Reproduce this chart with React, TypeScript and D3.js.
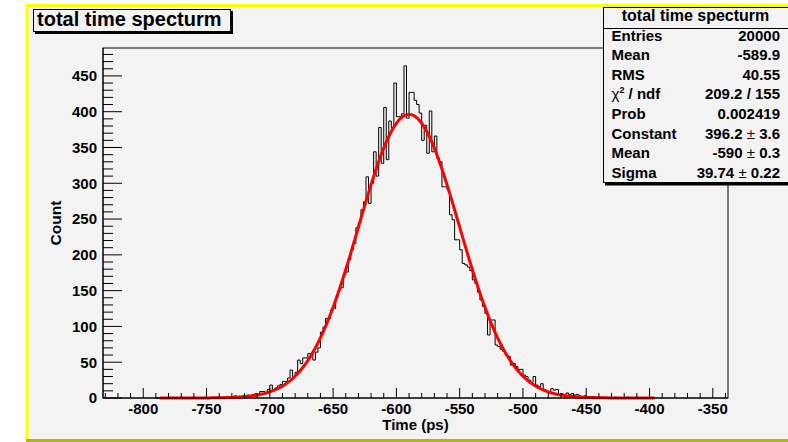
import React, { useEffect } from 'react';
import * as d3 from 'd3';

const W = 788;
const H = 442;

// histogram: 2 ps bins starting at -790 ps
const binStart = -790;
const binWidth = 2;
const counts = [
  0, 0, 0, 0, 0, 0, 0, 0, 0, 0, 0, 0, 0, 0, 1, 0, 0, 0, 0, 1,
  0, 0, 1, 0, 1, 0, 1, 1, 1, 0, 2, 3, 2, 1, 3, 2, 4, 3, 5, 6,
  4, 9, 9, 6, 12, 18, 10, 14, 17, 19, 23, 23, 28, 39, 30, 36, 53, 48, 56, 56,
  62, 62, 53, 64, 70, 92, 99, 111, 111, 123, 125, 141, 150, 154, 172, 176, 193, 207, 216, 238,
  245, 263, 274, 309, 272, 300, 344, 310, 378, 328, 406, 333, 387, 377, 440, 393, 393, 397, 464, 391,
  427, 427, 416, 410, 398, 360, 381, 342, 401, 344, 366, 335, 330, 295, 295, 291, 256, 249, 221, 221,
  207, 188, 186, 183, 178, 165, 160, 148, 137, 128, 118, 88, 109, 109, 74, 72, 68, 65, 60, 58,
  46, 48, 44, 40, 40, 32, 30, 25, 22, 30, 18, 16, 20, 12, 9, 8, 13, 11, 12, 5,
  6, 4, 7, 5, 6, 4, 5, 3, 2, 3, 2, 1, 2, 1, 0, 1, 1, 0, 1, 0,
  0, 1, 0, 0, 0, 0, 1, 0, 0, 0, 0, 0, 0, 0, 0,
];

// gaussian fit parameters (from the stats box)
const fitConstant = 396.2;
const fitMean = -590;
const fitSigma = 39.74;
const fitRange = [-787, -396];

const xDomain = [-831.8, -338.0];
const yDomain = [0, 489];
const xTicks = [-800, -750, -700, -650, -600, -550, -500, -450, -400, -350];
const yTicks = [0, 50, 100, 150, 200, 250, 300, 350, 400, 450];

const chartTitle = 'total time specturm';
const xTitle = 'Time (ps)';
const yTitle = 'Count';
const statLabels = ['Entries', 'Mean', 'RMS', 'CHI2', 'Prob', 'Constant', 'Mean', 'Sigma'];
const statValues = ['20000', '-589.9', '40.55', '209.2 / 155', '0.002419', '396.2 ± 3.6', '-590 ± 0.3', '39.74 ± 0.22'];

const FONT = '"Liberation Sans", Arial, Helvetica, sans-serif';
const BG = '#f3f3f3';

export default function App() {
  useEffect(() => {
    document.body.style.margin = '0';
  }, []);

  const fL = 103, fR = 728, fT = 48, fB = 398;
  const x = d3.scaleLinear().domain(xDomain).range([fL, fR]);
  const y = d3.scaleLinear().domain(yDomain).range([fB, fT]);

  const lastEdge = binStart + counts.length * binWidth;
  const pts: [number, number][] = [[binStart, 0]];
  counts.forEach((c, i) => pts.push([binStart + i * binWidth, c]));
  pts.push([lastEdge, 0]);
  const histPath = d3
    .line<[number, number]>()
    .x((d) => x(d[0]))
    .y((d) => y(d[1]))
    .curve(d3.curveStepAfter)(pts) as string;

  const fitXs = d3.range(0, 401).map((i) => fitRange[0] + ((fitRange[1] - fitRange[0]) * i) / 400);
  const fitPath = d3
    .line<number>()
    .x((v) => x(v))
    .y((v) => y(fitConstant * Math.exp(-((v - fitMean) ** 2) / (2 * fitSigma * fitSigma))))(fitXs) as string;

  const xMinor = d3.range(-830, xDomain[1], 10).filter((v) => v % 50 !== 0);
  const yMinor = d3.range(0, yDomain[1], 10).filter((v) => v % 50 !== 0);

  const sbL = 603, sbR = 788, sbT = 7, sbB = 182;
  const rowY0 = 40.5, rowStep = 19.6;

  const renderValue = (s: string) => {
    const parts = s.split('±');
    if (parts.length === 1) return s;
    return (
      <>
        {parts[0]}
        <tspan fontWeight="normal">±</tspan>
        {parts[1]}
      </>
    );
  };

  return (
    <svg
      width={W}
      height={H}
      style={{ display: 'block', position: 'absolute', left: 0, top: 0 }}
      fontFamily={FONT}
    >
      <rect x={0} y={0} width={W} height={H} fill="#ffffff" />
      <rect x={26} y={4} width={W - 26} height={H - 4} fill={BG} />
      {/* canvas border */}
      <line x1={26} y1={5.5} x2={W} y2={5.5} stroke="#ffff00" strokeWidth={3} />
      <line x1={27} y1={4} x2={27} y2={440} stroke="#ffff00" strokeWidth={3} />
      <line x1={26} y1={440.5} x2={W} y2={440.5} stroke="#b3b31a" strokeWidth={3} />

      {/* frame */}
      <rect x={fL} y={fT} width={fR - fL} height={fB - fT} fill="none" stroke="#000" strokeWidth={1} />

      {/* histogram */}
      <path d={histPath} fill="none" stroke="#000" strokeWidth={1} />
      {/* fit */}
      <path d={fitPath} fill="none" stroke="#ff0000" strokeWidth={3} />

      {/* x axis */}
      <line x1={fL} y1={fB} x2={fR} y2={fB} stroke="#000" />
      {xTicks.map((t) => (
        <line key={'xt' + t} x1={x(t)} x2={x(t)} y1={fB} y2={fB - 10} stroke="#000" />
      ))}
      {xMinor.map((t) => (
        <line key={'xm' + t} x1={x(t)} x2={x(t)} y1={fB} y2={fB - 5} stroke="#000" />
      ))}
      {xTicks.map((t) => (
        <text key={'xl' + t} x={x(t)} y={413.5} textAnchor="middle" fontSize={15} fontWeight="bold" fill="#000">
          {t}
        </text>
      ))}
      <text x={(fL + fR) / 2} y={429.5} textAnchor="middle" fontSize={15} fontWeight="bold" fill="#000">
        {xTitle}
      </text>

      {/* y axis */}
      <line x1={fL} y1={fT} x2={fL} y2={fB} stroke="#000" />
      {yTicks.map((t) => (
        <line key={'yt' + t} x1={fL} x2={fL + 19} y1={y(t)} y2={y(t)} stroke="#000" />
      ))}
      {yMinor.map((t) => (
        <line key={'ym' + t} x1={fL} x2={fL + 10} y1={y(t)} y2={y(t)} stroke="#000" />
      ))}
      {yTicks.map((t) => (
        <text key={'yl' + t} x={97} y={y(t) + 5.3} textAnchor="end" fontSize={15} fontWeight="bold" fill="#000">
          {t}
        </text>
      ))}
      <text
        transform={`translate(61,${(fT + fB) / 2}) rotate(-90)`}
        textAnchor="middle"
        fontSize={15.5}
        fontWeight="bold"
        fill="#000"
      >
        {yTitle}
      </text>

      {/* title box */}
      <rect x={35} y={11} width={198} height={23} fill="#000" />
      <rect x={33.5} y={9.5} width={197} height={22} fill={BG} stroke="#000" strokeWidth={1} />
      <text x={37} y={26} fontSize={20} fontWeight="bold" fill="#000">
        {chartTitle}
      </text>

      {/* stats box */}
      <rect x={sbL + 2} y={sbT + 2} width={sbR - sbL} height={sbB - sbT + 1.5} fill="#000" />
      <rect x={sbL + 0.5} y={sbT + 0.5} width={sbR - sbL} height={sbB - sbT} fill={BG} stroke="#000" strokeWidth={1} />
      <line x1={sbL} x2={sbR} y1={28.5} y2={28.5} stroke="#000" />
      <text x={(sbL + sbR) / 2} y={21} textAnchor="middle" fontSize={16} fontWeight="bold" fill="#000">
        {chartTitle}
      </text>
      {statLabels.map((lab, i) => (
        <text key={'sl' + i} x={611.5} y={rowY0 + i * rowStep} fontSize={15} fontWeight="bold" fill="#000">
          {lab === 'CHI2' ? (
            <>
              <tspan fontWeight="normal">χ</tspan>
              <tspan fontSize={9} dy={-6}>2</tspan>
              <tspan dy={6}> / ndf</tspan>
            </>
          ) : (
            lab
          )}
        </text>
      ))}
      {statValues.map((v, i) => (
        <text key={'sv' + i} x={780} y={rowY0 + i * rowStep} textAnchor="end" fontSize={15} fontWeight="bold" fill="#000">
          {renderValue(v)}
        </text>
      ))}
    </svg>
  );
}
